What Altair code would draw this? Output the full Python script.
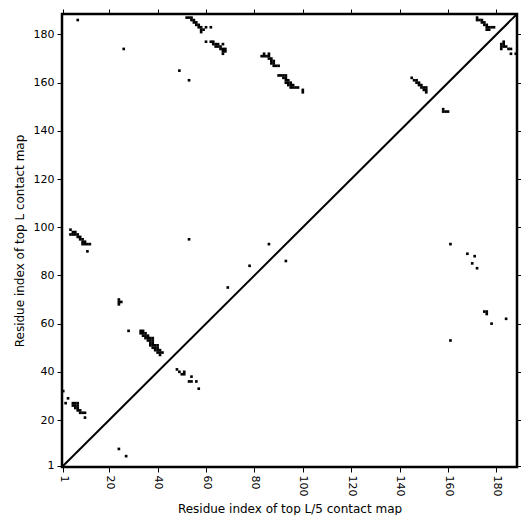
import altair as alt
import pandas as pd

# residue pairs (x: top L/5 index, y: top L index)
contact_i = [
    7,
    52, 53, 54, 54, 55, 55, 56, 56, 57, 57, 58, 58, 59, 58, 60, 62,
    60, 62, 63, 63, 64, 65, 64, 65, 66, 66, 67, 67, 68, 68, 67, 67,
    26, 49, 53,
    84, 86, 83, 84, 85, 86, 86, 87, 87, 88, 87, 88, 88, 89, 90,
    90, 91, 92, 93, 92, 93, 93, 94, 93, 94, 95, 94, 95, 96, 95, 96, 97, 98, 100, 100,
    145, 146, 147, 147, 148, 148, 149, 149, 150, 151, 150, 151, 151,
    172, 172, 173, 174, 174, 175, 175, 176, 176, 177, 178, 179, 176, 177,
    182, 182, 182, 183, 183, 183, 184, 185, 186, 186, 188,
    4, 4, 5, 6, 7, 5, 6, 7, 8, 8, 9, 9, 10, 9, 10, 11, 12, 11,
    53, 78, 69, 86, 93,
    24, 24, 24, 25, 28,
    33, 34, 33, 34, 35, 34, 35, 36, 35, 36, 37, 38, 36, 37, 38, 37, 38, 37, 38, 39, 40,
    38, 39, 40, 39, 40, 41, 40, 41, 42, 41,
    48, 49, 50, 51, 51,
    54, 53, 54, 56, 57,
    1, 3, 2,
    5, 6, 7, 5, 6, 7, 6, 7, 7, 8, 8, 9, 10, 10,
    24, 27,
    158, 158, 159, 160,
    161, 168, 171, 170, 172, 175, 176, 176, 178, 184, 161,
]
contact_j = [
    186,
    187, 187, 187, 186, 186, 185, 185, 184, 184, 183, 183, 182, 182, 181, 183, 183,
    177, 177, 177, 176, 176, 176, 175, 175, 175, 174, 174, 173, 173, 174, 172, 176,
    174, 165, 161,
    172, 172, 171, 171, 171, 171, 170, 170, 169, 169, 168, 168, 167, 167, 167,
    163, 163, 163, 163, 162, 162, 161, 161, 160, 160, 160, 159, 159, 159, 158, 158, 158, 158, 157, 156,
    162, 161, 161, 160, 160, 159, 159, 158, 158, 158, 157, 157, 156,
    187, 186, 186, 186, 185, 185, 184, 184, 183, 183, 183, 183, 182, 182,
    176, 175, 174, 177, 176, 175, 175, 174, 174, 172, 172,
    99, 97, 97, 97, 97, 98, 98, 96, 96, 95, 95, 94, 94, 93, 93, 93, 93, 90,
    95, 84, 75, 93, 86,
    70, 69, 68, 69, 57,
    57, 57, 56, 56, 56, 55, 55, 55, 54, 54, 54, 54, 53, 53, 53, 52, 52, 51, 51, 51, 51,
    50, 50, 50, 49, 49, 49, 48, 48, 48, 47,
    41, 40, 39, 39, 40,
    38, 36, 36, 36, 33,
    32, 29, 27,
    27, 27, 27, 26, 26, 26, 25, 25, 24, 24, 23, 23, 23, 21,
    8, 5,
    149, 148, 148, 148,
    93, 89, 88, 85, 83, 65, 65, 64, 60, 62, 53,
]
tick_values = [1, 20, 40, 60, 80, 100, 120, 140, 160, 180]
domain_lo, domain_hi = 0.5, 188.5

df = pd.DataFrame({"i": contact_i, "j": contact_j})
df["x0"] = df["i"] - 0.55
df["x1"] = df["i"] + 0.55
df["y0"] = df["j"] - 0.55
df["y1"] = df["j"] + 0.55

diag = pd.DataFrame({"v": [domain_lo, domain_hi]})

def sc():
    return alt.Scale(domain=[domain_lo, domain_hi], nice=False, zero=False)

common_axis = dict(values=tick_values, domain=False, grid=False, tickColor="black",
                   tickSize=5, tickWidth=1, labelColor="black", labelFont="DejaVu Sans",
                   labelFontSize=11, titleFont="DejaVu Sans", titleFontSize=12,
                   titleFontWeight="normal", titleColor="black")

rects = alt.Chart(df).mark_rect(color="black", strokeWidth=0).encode(
    x=alt.X("x0:Q", scale=sc(), axis=alt.Axis(orient="bottom",
                                              title="Residue index of top L/5 contact map",
                                              labelAngle=90, labelAlign="left", labelBaseline="middle",
                                              labelPadding=3, titlePadding=8, **common_axis)),
    x2="x1:Q",
    y=alt.Y("y0:Q", scale=sc(), axis=alt.Axis(orient="left",
                                              title="Residue index of top L contact map",
                                              labelPadding=3, titlePadding=7, **common_axis)),
    y2="y1:Q",
)

no_lab = dict(values=tick_values, domain=False, grid=False, tickColor="black",
              tickSize=5, tickWidth=1, labels=False, title=None)

line = alt.Chart(diag).mark_line(color="black", strokeWidth=2, clip=True).encode(
    x=alt.X("v:Q", scale=sc(), axis=alt.Axis(orient="top", **no_lab)),
    y=alt.Y("v:Q", scale=sc(), axis=alt.Axis(orient="right", **no_lab)),
)

chart = alt.layer(rects, line).resolve_scale(
    x="independent", y="independent"
).resolve_axis(
    x="independent", y="independent"
).properties(
    width=455, height=453,
    autosize=alt.AutoSizeParams(type="none"),
    padding={"left": 54, "top": 6, "right": 4, "bottom": 48},
).configure(background="white").configure_view(stroke="black", strokeWidth=2.5)

chart.save("out.html", embed_options={"renderer": "svg", "actions": False})
